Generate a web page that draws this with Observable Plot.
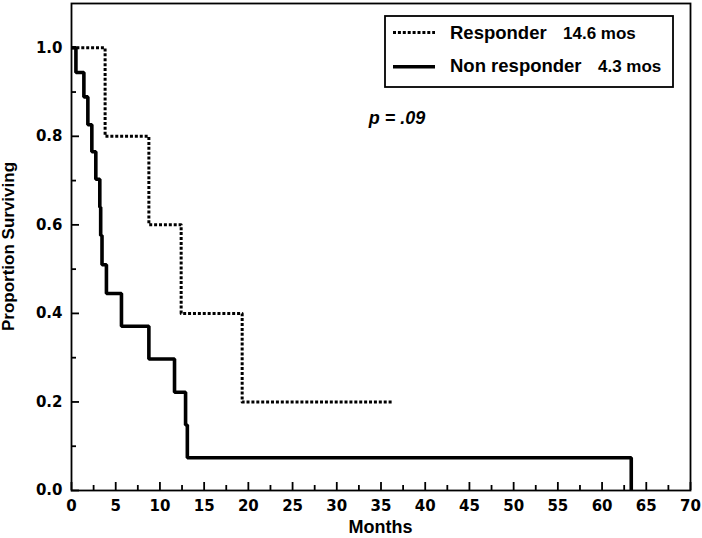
<!DOCTYPE html>
<html><head><meta charset="utf-8">
<script src="https://cdn.jsdelivr.net/npm/d3@7"></script>
<script src="https://cdn.jsdelivr.net/npm/@observablehq/plot@0.6"></script>
<style>
html,body{margin:0;padding:0;background:#fff;}
#chart{width:702px;height:538px;position:relative;}
</style></head><body><div id="chart"></div>
<script>
// Kaplan–Meier steps (months, proportion surviving)
const responderTime = [0, 3.8, 8.75, 12.4, 19.3, 36.3];
const responderSurv = [1.0, 0.8, 0.6, 0.4, 0.2, 0.2];
const nonResponderTime = [0, 0.5, 1.4, 1.85, 2.3, 2.75, 3.2, 3.3, 3.45, 3.95, 5.65, 8.75, 11.65, 12.9, 13.1, 63.3];
const nonResponderSurv = [1.0, 0.944, 0.889, 0.826, 0.765, 0.703, 0.640, 0.576, 0.510, 0.445, 0.371, 0.297, 0.222, 0.148, 0.074, 0];

const xMajorTicks = [0,5,10,15,20,25,30,35,40,45,50,55,60,65,70];
const xMinorTicks = [2.5,7.5,12.5,17.5,22.5,27.5,32.5,37.5,42.5,47.5,52.5,57.5,62.5,67.5];
const yMajorTicks = [0,0.2,0.4,0.6,0.8,1.0];
const yMinorTicks = [0.1,0.3,0.5,0.7,0.9];

const seriesNames = ["Responder", "Non responder"];
const medianLabels = ["14.6 mos", "4.3 mos"];
const pAnnotation = [{x: 36.8, y: 0.84, text: "p = .09"}];

const responder = responderTime.map((t, i) => ({t, s: responderSurv[i]}));
const nonResponder = nonResponderTime.map((t, i) => ({t, s: nonResponderSurv[i]}));

const W = 702, H = 538;
const mL = 71, mR = 12, mT = 3, mB = 48;
const pw = W - mL - mR, ph = H - mT - mB;

const tickFont = {fontSize: 15, fontWeight: "bold", fontFamily: "DejaVu Sans"};
const sans = "Liberation Sans, Arial, sans-serif";

const chart = Plot.plot({
  width: W, height: H,
  marginLeft: mL, marginRight: mR, marginTop: mT, marginBottom: mB,
  style: {background: "#fff", color: "#000", fontFamily: sans},
  x: {domain: [0, 70]},
  y: {domain: [0, 1.1]},
  marks: [
    Plot.frame({stroke: "#000", strokeWidth: 1.8}),
    // major / minor ticks pointing inward
    Plot.ruleX(xMajorTicks, {x: d => d, insetTop: ph - 8, stroke: "#000", strokeWidth: 1.8}),
    Plot.ruleX(xMinorTicks, {x: d => d, insetTop: ph - 5, stroke: "#000", strokeWidth: 1.8}),
    Plot.ruleY(yMajorTicks, {y: d => d, insetRight: pw - 8, stroke: "#000", strokeWidth: 1.8}),
    Plot.ruleY(yMinorTicks, {y: d => d, insetRight: pw - 5, stroke: "#000", strokeWidth: 1.8}),
    Plot.axisX({ticks: xMajorTicks, tickSize: 0, tickPadding: 10, tickFormat: d => String(d), label: null, ...tickFont}),
    Plot.axisY({ticks: yMajorTicks, tickSize: 0, tickPadding: 9, tickFormat: d3.format(".1f"), label: null, ...tickFont}),
    Plot.line(responder, {x: "t", y: "s", curve: "step-after", stroke: "#000", strokeWidth: 3, strokeDasharray: "3,1.9", strokeLinecap: "butt"}),
    Plot.line(nonResponder, {x: "t", y: "s", curve: "step-after", stroke: "#000", strokeWidth: 3.6, strokeLinejoin: "miter", strokeLinecap: "butt"}),
    Plot.text(pAnnotation, {x: "x", y: "y", text: "text", fontSize: 18, fontWeight: "bold", fontStyle: "italic", fill: "#000", textAnchor: "middle"})
  ]
});

document.getElementById("chart").appendChild(chart);

const svg = d3.select(chart);
// legend box
const lg = svg.append("g").attr("text-anchor", "start");
lg.append("rect").attr("x", 385).attr("y", 16).attr("width", 288).attr("height", 71)
  .attr("fill", "#fff").attr("stroke", "#000").attr("stroke-width", 1.8);
lg.append("line").attr("x1", 393).attr("x2", 435).attr("y1", 32.5).attr("y2", 32.5)
  .attr("stroke", "#000").attr("stroke-width", 3).attr("stroke-dasharray", "3,1.9");
lg.append("line").attr("x1", 393).attr("x2", 435).attr("y1", 66.7).attr("y2", 66.7)
  .attr("stroke", "#000").attr("stroke-width", 3.6);
const rowsY = [39.3, 72];
const medX = [563, 598];
seriesNames.forEach((name, i) => {
  lg.append("text").attr("x", 450).attr("y", rowsY[i]).text(name).attr("text-anchor", "start")
    .attr("font-family", sans).attr("font-weight", "bold").attr("font-size", 18.5).attr("fill", "#000");
  lg.append("text").attr("x", medX[i]).attr("y", rowsY[i]).text(medianLabels[i]).attr("text-anchor", "start")
    .attr("font-family", sans).attr("font-weight", "bold").attr("font-size", 17).attr("fill", "#000");
});
// axis titles
svg.append("text").attr("transform", `translate(14,${mT + ph / 2}) rotate(-90)`)
  .attr("text-anchor", "middle").text("Proportion Surviving")
  .attr("font-family", sans).attr("font-weight", "bold").attr("font-size", 17).attr("fill", "#000");
svg.append("text").attr("x", mL + pw / 2).attr("y", 533)
  .attr("text-anchor", "middle").text("Months")
  .attr("font-family", sans).attr("font-weight", "bold").attr("font-size", 18).attr("fill", "#000");
</script>
</body></html>
